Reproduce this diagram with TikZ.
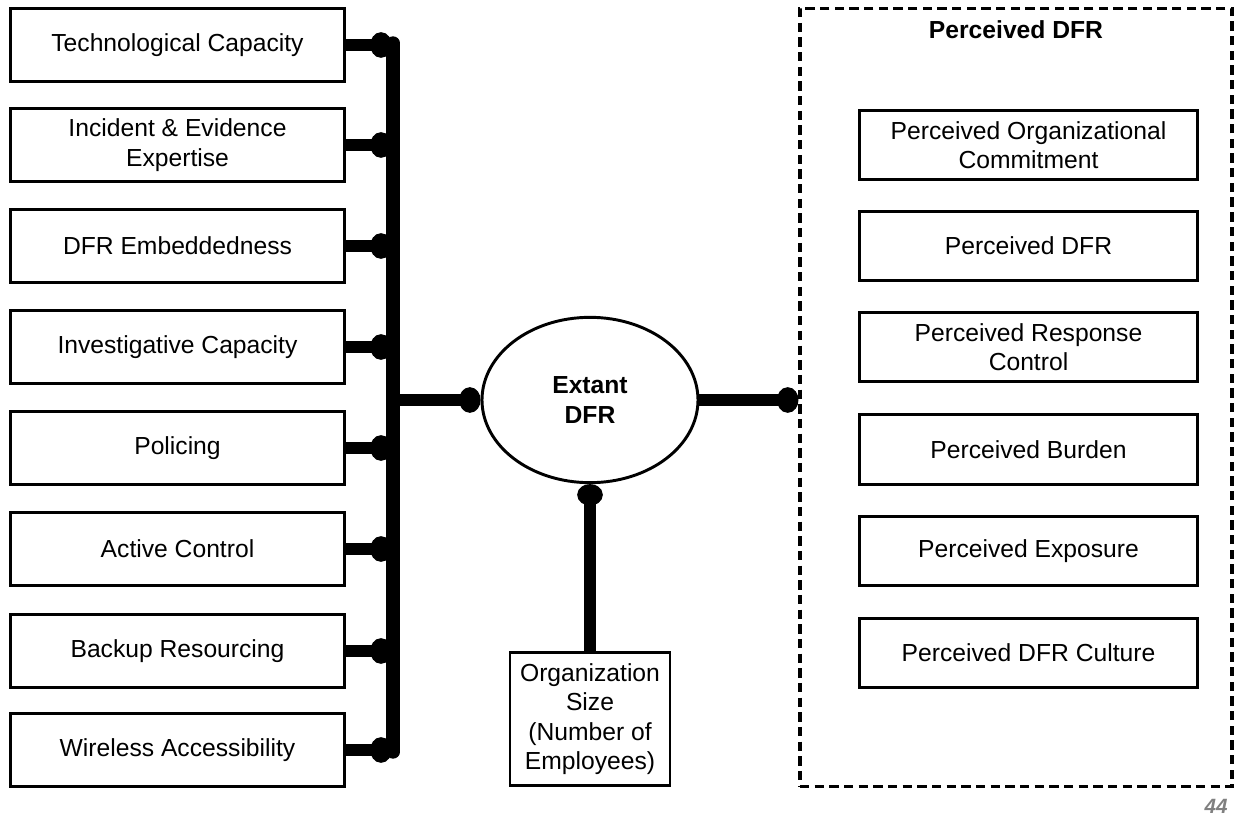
\documentclass[tikz,border=0pt]{standalone}
\usepackage{fontspec}
\setmainfont{Liberation Sans}
\usepackage{tikz}
\usetikzlibrary{arrows.meta,shapes.geometric}
\usepackage{xcolor}

\begin{document}
\begin{tikzpicture}[x=0.75pt,y=-0.75pt,
  every node/.style={font=\fontsize{18.5}{22}\selectfont,align=center},
  factor/.style={draw,line width=2.2pt,minimum width=251pt,minimum height=55pt,inner sep=2pt},
  outcome/.style={draw,line width=2.2pt,minimum width=253pt,minimum height=52pt,inner sep=2pt},
  conn/.style={line width=9pt,-{Circle[length=16pt,width=19pt]}}]
  \useasboundingbox (0,0) rectangle (1239,820);

  % factors
  \node[factor] (f1) at (177.5,45) {Technological Capacity};
  \node[factor] (f2) at (177.5,145) {Incident \& Evidence\\Expertise};
  \node[factor] (f3) at (177.5,246) {DFR Embeddedness};
  \node[factor] (f4) at (177.5,347) {Investigative Capacity};
  \node[factor] (f5) at (177.5,448) {Policing};
  \node[factor] (f6) at (177.5,549) {Active Control};
  \node[factor] (f7) at (177.5,651) {Backup Resourcing};
  \node[factor] (f8) at (177.5,750) {Wireless Accessibility};

  % bus
  \coordinate (bustop) at (393,43);
  \coordinate (busbot) at (393,752);
  \foreach \i in {1,...,8}
    \draw[conn,shorten >=1pt] (f\i.east) -- (f\i.east -| bustop);
  \draw[line width=10pt,line cap=round] (bustop) -- (busbot);

  % extant DFR
  \node[ellipse,draw,line width=2.2pt,minimum width=162pt,minimum height=124pt,
        font=\fontsize{18.5}{22}\selectfont\bfseries] (ext) at (590,400) {Extant\\DFR};
  \draw[conn] (ext.west -| bustop) -- (ext.west);

  \node[draw,line width=2.2pt,minimum width=120pt,minimum height=100pt,inner sep=2pt]
    (org) at (590,719) {Organization\\Size\\(Number of\\Employees)};
  \draw[conn] (org.north) -- (ext.south);

  % perceived DFR
  \node[draw,line width=2.4pt,dash pattern=on 7pt off 4pt,minimum width=324pt,
        minimum height=584pt] (pbox) at (1016,397.5) {};
  \node[font=\fontsize{18.5}{22}\selectfont\bfseries,anchor=north] (ptitle)
    at ([yshift=-7pt]pbox.north) {Perceived DFR};
  \draw[conn] (ext.east) -- (ext.east -| pbox.west);

  \node[outcome] (p1) at (1028.5,145) {Perceived Organizational\\Commitment};
  \node[outcome] (p2) at (1028.5,246) {Perceived DFR};
  \node[outcome] (p3) at (1028.5,347) {Perceived Response\\Control};
  \node[outcome] (p4) at (1028.5,449.5) {Perceived Burden};
  \node[outcome] (p5) at (1028.5,551) {Perceived Exposure};
  \node[outcome] (p6) at (1028.5,653) {Perceived DFR Culture};

  \node[font=\fontsize{15.5}{17}\selectfont\bfseries\itshape,text=black!50] (pnum) at (1216,806) {44};
\end{tikzpicture}
\end{document}
